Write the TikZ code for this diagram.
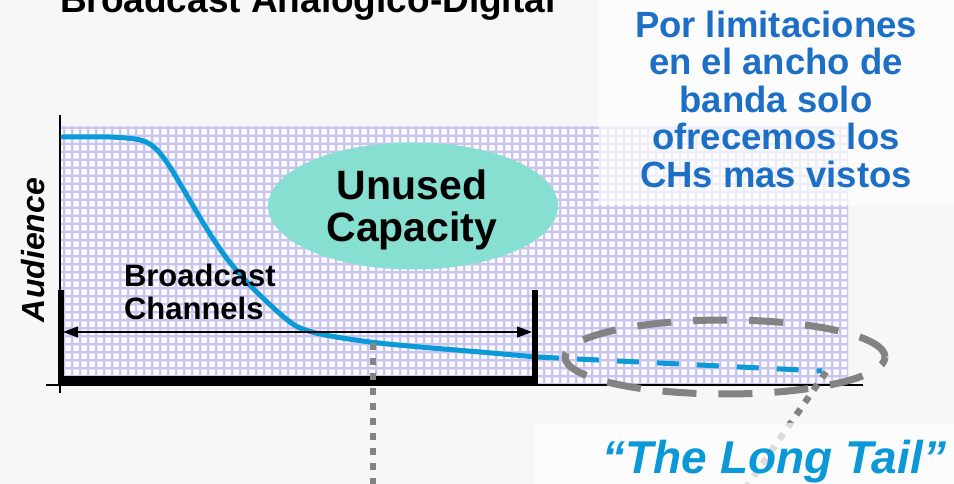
\documentclass[tikz,border=0pt]{standalone}
\usepackage{fontspec}
\setmainfont{Liberation Sans}
\usetikzlibrary{shapes.geometric,arrows.meta}

\definecolor{pagebg}{HTML}{F7F7F7}
\definecolor{gridfill}{HTML}{FBFBFE}
\definecolor{gridhalo}{HTML}{E7E5F9}
\definecolor{gridline}{HTML}{C9C4EF}
\definecolor{curveblue}{HTML}{0A9AD8}
\definecolor{capfill}{HTML}{86DFD0}
\definecolor{noteblue}{HTML}{1D6FC6}
\definecolor{tailblue}{HTML}{0A98D8}
\definecolor{tailgray}{HTML}{838383}

\tikzset{
  gridglow/.style={draw=gridhalo, line width=3pt},
  gridlines/.style={draw=gridline, line width=1.4pt},
  curvepen/.style={draw=curveblue, line width=5pt, line cap=round},
  curvedash/.style={draw=curveblue, line width=5pt, dash pattern=on 22pt off 18pt},
  bracketpen/.style={draw=black, line width=6.5pt},
  axispen/.style={draw=black, line width=1.4pt},
  spanarrow/.style={draw=black, line width=1.2pt, {Triangle[length=15pt,width=11pt]}-{Triangle[length=15pt,width=11pt]}},
  capacity/.style={ellipse, fill=capfill, inner sep=0pt, minimum width=290pt, minimum height=127pt},
  tailring/.style={ellipse, draw=tailgray, line width=7pt, dash pattern=on 34pt off 22pt, inner sep=0pt, minimum width=320pt, minimum height=74pt},
  dotline/.style={draw=tailgray, line width=6.5pt, dash pattern=on 7pt off 8pt},
  txt/.style={inner sep=0pt, outer sep=0pt},
}

\begin{document}
\begin{tikzpicture}[x=1pt, y=-1pt]
\useasboundingbox (0,0) rectangle (954,484);
\begin{scope}
\clip (0,0) rectangle (954,484);
\fill[pagebg] (0,0) rectangle (954,484);

% chart background grid
\fill[gridfill] (60,127) rectangle (848,383);
\begin{scope}
\clip (60,127) rectangle (848,383);
\draw[gridglow, step=8pt] (56,120) grid (852,390);
\draw[gridlines, step=8pt] (56,120) grid (852,390);
\end{scope}

% veil behind the note
\fill[white, opacity=0.7] (599,0) rectangle (954,205);

% title
\node[txt, anchor=base west, font={\fontsize{37}{40}\selectfont\bfseries}] (title) at (60,13)
  {Broadcast Analogico-Digital};

% unused capacity bubble
\node[capacity] (cap) at (413,206) {};
\node[txt, anchor=north, align=center, font={\fontsize{41}{42}\selectfont\bfseries}] (captext) at (412,170)
  {Unused\\Capacity};

% axes
\coordinate (ytop) at (60,115);
\coordinate (ybot) at (60,393);
\coordinate (xl) at (46,385);
\coordinate (xr) at (863,385);
\draw[axispen] (ytop) -- (ybot);
\draw[axispen] (xl) -- (xr);
\node[txt, rotate=90, font={\fontsize{32}{34}\selectfont\bfseries\itshape}] (aud) at (33,250)
  {Audience};

% audience curve
\draw[curvepen] plot[smooth, tension=0.55] coordinates {
  (63,137) (110,137) (140,140) (155,148) (168,164) (185,192) (205,226)
  (225,256) (245,280) (265,300) (285,318) (300,328) (325,335) (370,342)
  (420,347) (480,352) (537,357)};
\coordinate (tailstart) at (537,357);
\coordinate (tailend) at (822,371);
\draw[curvedash] (tailstart) -- (tailend);

% broadcast channel bracket
\coordinate (bl) at (61,290);
\coordinate (br) at (535,290);
\draw[bracketpen] (bl) -- (61,384);
\draw[bracketpen] (br) -- (535,384);
\fill[black] (58,376) rectangle (538,384);
\coordinate (al) at (63,332);
\coordinate (ar) at (532,332);
\draw[spanarrow] (al) -- (ar);
\node[txt, anchor=north west, align=left, font={\fontsize{31}{33}\selectfont\bfseries}] (bc) at (124,264)
  {Broadcast\\Channels};

% long tail marker
\node[tailring] (ring) at (725,357) {};
\coordinate (vtop) at (373,343);
\coordinate (vbot) at (373,492);
\draw[dotline] (vtop) -- (vbot);
\coordinate (dtop) at (826,372);
\coordinate (dbot) at (743,492);
\draw[dotline] (dtop) -- (dbot);

\fill[white, opacity=0.72] (535,423) rectangle (954,484);
\node[txt, anchor=base east, text=tailblue, font={\fontsize{46}{48}\selectfont\bfseries\itshape}] (tail) at (946,473)
  {“The Long Tail”};

% note
\node[txt, anchor=north, align=center, text=noteblue, font={\fontsize{36.5}{37.5}\selectfont\bfseries}] (note) at (776,11)
  {Por limitaciones\\en el ancho de\\banda solo\\ofrecemos los\\CHs mas vistos};
\end{scope}
\end{tikzpicture}
\end{document}
